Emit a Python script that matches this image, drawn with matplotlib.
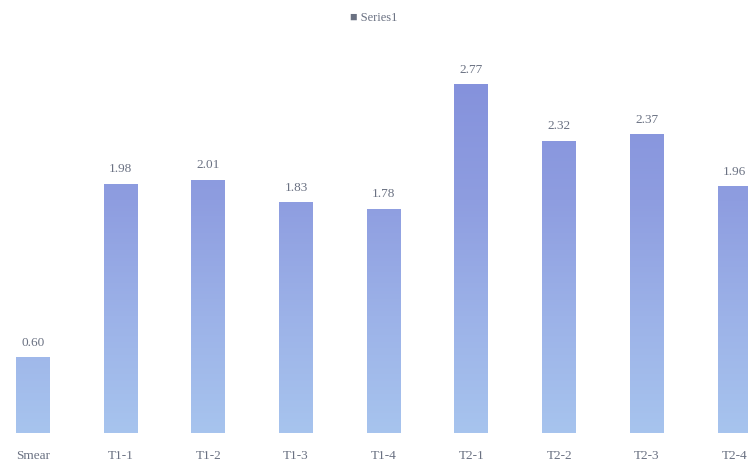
import matplotlib
matplotlib.use("Agg")
import matplotlib.pyplot as plt
import numpy as np
from matplotlib.colors import LinearSegmentedColormap

categories = ["Smear", "T1-1", "T1-2", "T1-3", "T1-4", "T2-1", "T2-2", "T2-3", "T2-4"]
values = [0.60, 1.98, 2.01, 1.83, 1.78, 2.77, 2.32, 2.37, 1.96]
value_labels = ["0.60", "1.98", "2.01", "1.83", "1.78", "2.77", "2.32", "2.37", "1.96"]
series_name = "Series1"

W, H, DPI = 748, 461, 100
fig = plt.figure(figsize=(W / DPI, H / DPI), dpi=DPI)
fig.patch.set_facecolor("white")

base_px = 433
ppu = 126.0
ax = fig.add_axes([0, (H - base_px) / H, 1, base_px / H])
ax.set_facecolor("none")

spacing = 87.7
c0 = 33
xlim = (-c0 / spacing, (W - c0) / spacing)
ylim = (0, base_px / ppu)

x = np.arange(len(categories))
bw = 34 / spacing
bars = ax.bar(x, values, width=bw, color="#93a3e2", edgecolor="none", zorder=2)

cmap = LinearSegmentedColormap.from_list("g", ["#a7c4ee", "#9cb2e8", "#8e9de0", "#8592dc"])
grad = np.linspace(0, 1, 256).reshape(-1, 1)
gtop = max(values)
for b in bars:
    x0 = b.get_x()
    w = b.get_width()
    im = ax.imshow(grad, extent=[x0, x0 + w, 0, gtop], origin="lower",
                   cmap=cmap, aspect="auto", zorder=3, interpolation="bilinear",
                   vmin=0, vmax=1)
    im.set_clip_path(b)
ax.set_xlim(*xlim)
ax.set_ylim(*ylim)

txt_color = "#6a7182"
for xi, v, lab in zip(x, values, value_labels):
    ax.annotate(lab, (xi, v), xytext=(0, 6), textcoords="offset points",
                ha="center", va="bottom", fontsize=9.5, color=txt_color,
                family="Liberation Serif")

ax.set_xticks(x)
ax.set_xticklabels(categories, family="Liberation Serif", fontsize=9.5, color=txt_color)
ax.tick_params(axis="x", length=0, pad=12)
ax.set_yticks([])
for s in ax.spines.values():
    s.set_visible(False)

fig.text(0.5, 1 - 18 / H, "■ " + series_name, ha="center", va="center",
         fontsize=9, color=txt_color, family="Liberation Serif")

fig.savefig("out.png", dpi=DPI)
